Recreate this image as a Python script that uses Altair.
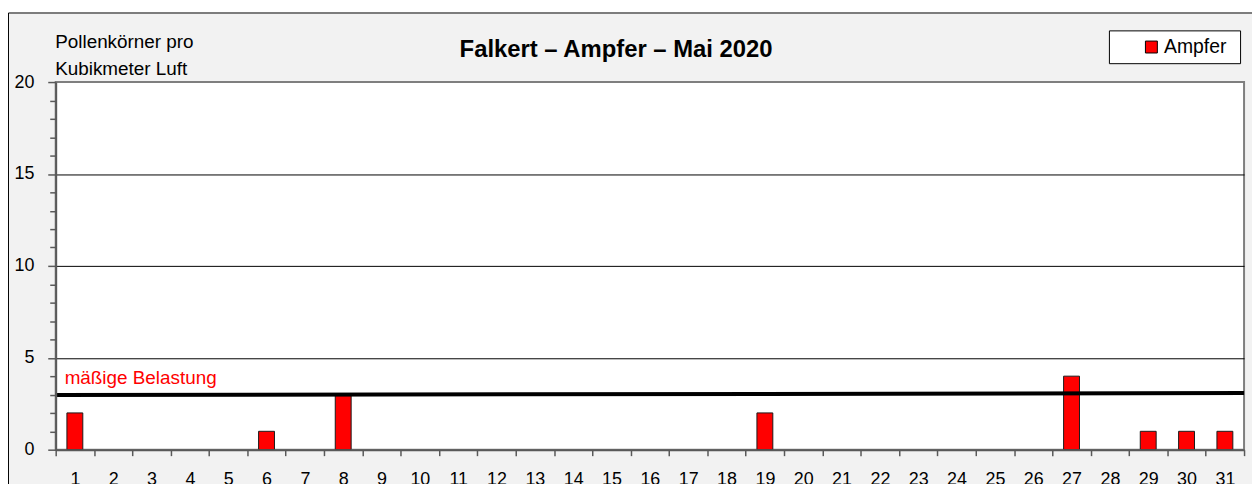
import altair as alt
import pandas as pd

FONT = "Liberation Sans"

# ---- data ----
days = [str(d) for d in range(1, 32)]
pollen = [2, 0, 0, 0, 0, 1, 0, 3, 0, 0, 0, 0, 0, 0, 0, 0, 0, 0, 2,
          0, 0, 0, 0, 0, 0, 0, 4, 0, 1, 1, 1]
series_name = "Ampfer"
threshold_start = 2.97
threshold_end = 3.08
threshold_label = "mäßige Belastung"
title_text = "Falkert – Ampfer – Mai 2020"
y_title = ["Pollenkörner pro", "Kubikmeter Luft"]
y_ticks = list(range(0, 21))

W, H = 1196, 370

df = pd.DataFrame({"Tag": days, "Pollen": pollen, "Serie": series_name})
df = df[df["Pollen"] > 0]

y_scale = alt.Scale(domain=[0, 20], nice=False, zero=True)
one = alt.Data(values=[{}])

y_axis = alt.Axis(values=y_ticks,
                  labelExpr="datum.value % 5 === 0 ? datum.label : ''",
                  tickSize={"condition": {"test": "datum.value % 5 === 0", "value": 8}, "value": 6},
                  tickColor="#595959", tickWidth=1.5,
                  domainColor="#595959", domainWidth=2,
                  grid=True,
                  gridColor={"condition": {"test": "datum.value % 5 === 0 && datum.value > 0 && datum.value < 20", "value": "black"}, "value": "transparent"},
                  gridWidth=1,
                  labelFont=FONT, labelFontSize=18, labelColor="black", labelPadding=14,
                  title=y_title, titleAngle=0, titleAlign="left", titleBaseline="alphabetic",
                  titleX=-1, titleY=-35, titleFont=FONT, titleFontSize=19,
                  titleFontWeight="normal", titleColor="black", titleLineHeight=27,
                  zindex=1)

bg = alt.Chart(one).mark_rect(fill="#f2f2f2", stroke="black", strokeWidth=1).encode(
    x=alt.value(-47.5), x2=alt.value(1400), y=alt.value(-69.5), y2=alt.value(600))

plot_bg = alt.Chart(one).mark_rect(fill="white", stroke="#7f7f7f", strokeWidth=2).encode(
    x=alt.value(0), x2=alt.value(W), y=alt.value(0), y2=alt.value(H))

legend_box = alt.Chart(one).mark_rect(fill="white", stroke="black", strokeWidth=1).encode(
    x=alt.value(1060.5), x2=alt.value(1192.5), y=alt.value(-51.5), y2=alt.value(-18.5))

bars = alt.Chart(df).mark_bar(size=16, stroke="#1a1a1a", strokeWidth=1).encode(
    x=alt.X("Tag:O",
            scale=alt.Scale(domain=days, paddingInner=0, paddingOuter=0),
            axis=alt.Axis(title=None, tickBand="extent", tickSize=6, labelAngle=0,
                          labelFont=FONT, labelFontSize=18, labelColor="black",
                          labelPadding=15, domainColor="#595959", domainWidth=2,
                          tickColor="#595959", tickWidth=1.5, grid=False, zindex=1)),
    y=alt.Y("Pollen:Q", scale=y_scale, axis=y_axis),
    color=alt.Color("Serie:N", scale=alt.Scale(domain=[series_name], range=["#ff0000"]),
                    legend=alt.Legend(title=None, orient="none", legendX=1093, legendY=-45,
                                      symbolType="square", symbolSize=144,
                                      symbolStrokeColor="black", symbolStrokeWidth=1,
                                      labelFont=FONT, labelFontSize=19.5, labelColor="black",
                                      labelOffset=3, padding=0)),
)

thr_df = pd.DataFrame({"y1": [threshold_start], "y2": [threshold_end]})
threshold = alt.Chart(thr_df).mark_rule(strokeWidth=4, color="black").encode(
    x=alt.value(0), x2=alt.value(W),
    y=alt.Y("y1:Q", scale=y_scale, axis=y_axis), y2="y2:Q")

thr_text = alt.Chart(one).mark_text(text=threshold_label, color="#ff0000", font=FONT,
                                    fontSize=19, align="left", baseline="alphabetic").encode(
    x=alt.value(9), y=alt.value(304))

title = alt.Chart(one).mark_text(text=title_text, font=FONT, fontSize=24, fontWeight="bold",
                                 align="center", baseline="alphabetic", color="black").encode(
    x=alt.value(564), y=alt.value(-25))

chart = alt.layer(bg, plot_bg, legend_box, bars, threshold, thr_text, title).properties(
    width=W, height=H,
    padding={"left": 48, "top": 73, "right": 8, "bottom": 33},
    autosize=alt.AutoSizeParams(type="none"),
    background="white",
).configure_view(stroke=None)

chart.save("out.html", embed_options={"renderer": "svg", "actions": False})
